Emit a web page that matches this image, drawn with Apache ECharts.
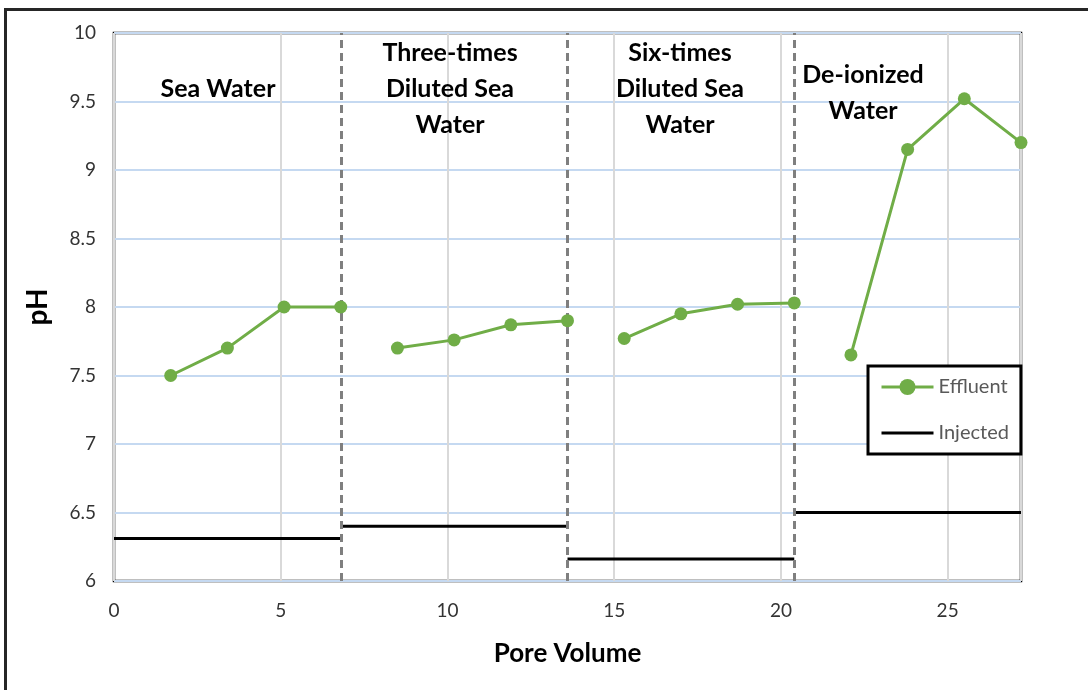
<!DOCTYPE html>
<html>
<head>
<meta charset="utf-8">
<script src="https://cdn.jsdelivr.net/npm/echarts@6/dist/echarts.min.js"></script>
<style>
html,body{margin:0;padding:0;background:#fff;overflow:hidden;}
#frame{position:absolute;left:4px;top:8px;width:1200px;height:800px;border-top:3px solid #262626;border-left:3px solid #262626;pointer-events:none;}
#chart{position:absolute;left:0;top:0;width:1088px;height:690px;}
</style>
</head>
<body>
<div id="chart"></div>
<div id="frame"></div>
<script>
// Pore volume (x) and pH (y) per stage
const effluentPV = [
  [1.7, 3.4, 5.1, 6.8],
  [8.5, 10.2, 11.9, 13.6],
  [15.3, 17.0, 18.7, 20.4],
  [22.1, 23.8, 25.5, 27.2]
];
const effluentPH = [
  [7.50, 7.70, 8.00, 8.00],
  [7.70, 7.76, 7.87, 7.90],
  [7.77, 7.95, 8.02, 8.03],
  [7.65, 9.15, 9.52, 9.20]
];
const stageBounds = [0, 6.8, 13.6, 20.4, 27.2];
const injectedPH = [6.31, 6.40, 6.16, 6.50];
const stageLabels = [
  "Sea Water",
  "Three-times\nDiluted Sea\nWater",
  "Six-times\nDiluted Sea\nWater",
  "De-ionized\nWater"
];
const xTicks = [0, 5, 10, 15, 20, 25];
const yTicks = [6, 6.5, 7, 7.5, 8, 8.5, 9, 9.5, 10];

// build series data with gaps between stages
const effData = [];
effluentPV.forEach((seg, i) => {
  seg.forEach((x, j) => effData.push([x, effluentPH[i][j]]));
  if (i < effluentPV.length - 1) effData.push(['-', '-']);
});
const injData = [];
injectedPH.forEach((v, i) => {
  injData.push([stageBounds[i], v]);
  injData.push([stageBounds[i + 1], v]);
  if (i < injectedPH.length - 1) injData.push(['-', '-']);
});
const dividers = stageBounds.slice(1, -1).map(x => ({ xAxis: x }));

const chart = echarts.init(document.getElementById('chart'), null, { renderer: 'canvas' });
const FONT = 'Lato';

// stage label anchor positions (pixel layout, not data)
const labelPos = [[218, 89], [450, 89], [680, 89], [863, 93]];

chart.setOption({
  animation: false,
  backgroundColor: 'transparent',
  grid: {
    left: 114, top: 33, right: 67, bottom: 109,
    show: true, borderColor: '#000', borderWidth: 2.5, backgroundColor: 'transparent'
  },
  xAxis: {
    type: 'value', min: 0, max: 27.2, interval: 5,
    name: 'Pore Volume', nameLocation: 'middle', nameGap: 60,
    nameTextStyle: { fontFamily: FONT, fontWeight: 'bold', fontSize: 26, color: '#000' },
    axisLine: { show: false },
    axisTick: { show: false },
    axisLabel: {
      showMaxLabel: false, margin: 20,
      fontFamily: FONT, fontSize: 19, color: '#333',
      formatter: v => xTicks.includes(v) ? String(v) : ''
    },
    splitLine: { show: true, lineStyle: { color: '#d9d9d9', width: 2 } }
  },
  yAxis: {
    type: 'value', min: 6, max: 10, interval: 0.5,
    name: 'pH', nameLocation: 'middle', nameGap: 62, nameRotate: 90,
    nameTextStyle: { fontFamily: FONT, fontWeight: 'bold', fontSize: 28, color: '#000' },
    axisLine: { show: false },
    axisTick: { show: false },
    axisLabel: {
      margin: 18, fontFamily: FONT, fontSize: 19, color: '#333',
      formatter: v => yTicks.includes(v) ? String(v) : ''
    },
    splitLine: { show: true, lineStyle: { color: '#c5d9f1', width: 2 } }
  },
  legend: {
    orient: 'vertical', left: 868, top: 366,
    data: [
      { name: 'Effluent' },
      { name: 'Injected', itemStyle: { opacity: 0 } }
    ],
    backgroundColor: '#fff', borderColor: '#000', borderWidth: 3,
    padding: [11, 12, 11, 12],
    itemWidth: 52, itemHeight: 20, itemGap: 26,
    lineStyle: { width: 3 },
    textStyle: { fontFamily: FONT, fontSize: 20, color: '#595959', padding: [0, 0, 0, 0] }
  },
  series: [
    {
      name: 'Injected', type: 'line', data: injData,
      symbol: 'none', connectNulls: false,
      lineStyle: { color: '#000', width: 3 }, itemStyle: { color: '#000', opacity: 0 },
      z: 3,
      markLine: {
        silent: true, symbol: ['none', 'none'], label: { show: false },
        lineStyle: { color: '#7f7f7f', width: 3, type: [8, 5], opacity: 1 },
        data: dividers, z: 4
      }
    },
    {
      name: 'Effluent', type: 'line', data: effData,
      symbol: 'circle', symbolSize: 13, connectNulls: false,
      lineStyle: { color: '#70ad47', width: 3 }, itemStyle: { color: '#70ad47' },
      z: 5
    }
  ],
  graphic: stageLabels.map((t, i) => ({
    type: 'text', x: labelPos[i][0], y: labelPos[i][1],
    style: {
      text: t, fontFamily: FONT, fontWeight: 'bold', fontSize: 25,
      fill: '#000', align: 'center', verticalAlign: 'middle', lineHeight: 36
    },
    z: 10
  }))
});
</script>
</body>
</html>
